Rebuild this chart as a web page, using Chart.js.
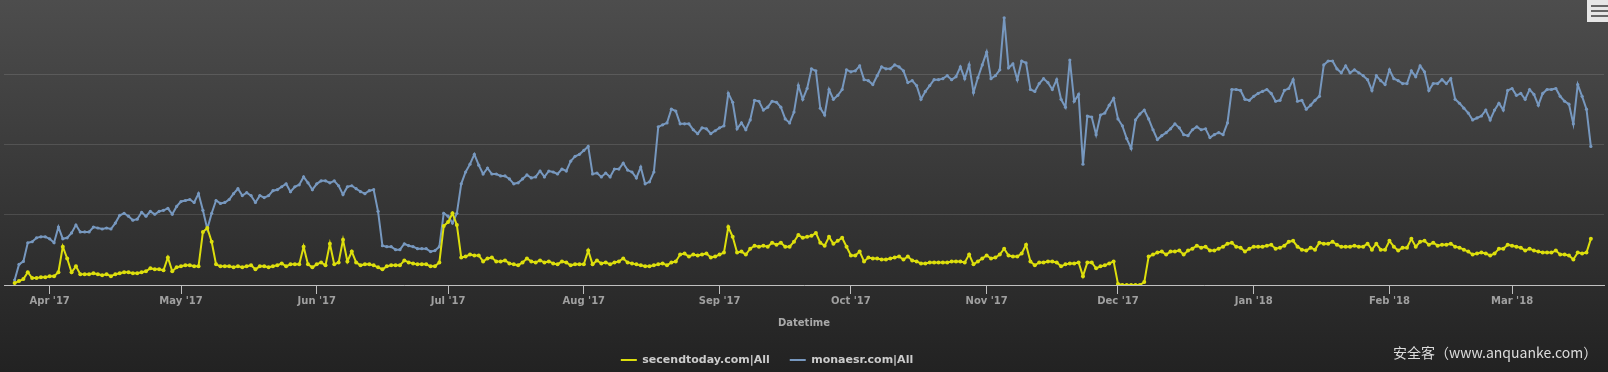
<!DOCTYPE html>
<html>
<head>
<meta charset="utf-8">
<title>secendtoday.com / monaesr.com</title>
<script src="https://cdn.jsdelivr.net/npm/chart.js@4"></script>
<style>
  html, body { margin: 0; padding: 0; background: #232323; }
  canvas { display: block; }
</style>
</head>
<body>
<canvas id="lineChart" width="1608" height="372"></canvas>
<script>
// Axel: dagar räknat från 1 april 2017
const monthTicks = [0, 30, 61, 91, 122, 153, 183, 214, 244, 275, 306, 334];
const monthLabels = ["Apr '17", "May '17", "Jun '17", "Jul '17", "Aug '17", "Sep '17",
    "Oct '17", "Nov '17", "Dec '17", "Jan '18", "Feb '18", "Mar '18"];

// Första mätpunkten: 24 mars 2017, en punkt per dag
const firstDay = -8;

const secendtoday = [2, 4, 6, 13, 7, 7, 8, 8,
    9, 9, 13, 39, 27, 13, 19, 11, 11, 11,
    12, 11, 10, 11, 9, 11, 12, 13, 13, 12,
    12, 13, 14, 17, 16, 16, 15, 28, 14, 18,
    19, 20, 20, 19, 19, 54, 58, 44, 21, 19,
    19, 19, 18, 19, 18, 19, 20, 16, 19, 19,
    18, 19, 20, 22, 19, 21, 21, 21, 39, 21,
    18, 21, 23, 20, 42, 21, 23, 46, 24, 34,
    23, 20, 21, 21, 20, 18, 16, 19, 20, 20,
    20, 25, 23, 22, 21, 21, 21, 19, 19, 23,
    60, 64, 73, 61, 28, 29, 31, 30, 30, 24,
    27, 28, 24, 24, 25, 22, 21, 20, 23, 27,
    24, 23, 25, 23, 24, 22, 21, 24, 23, 20,
    21, 21, 21, 35, 21, 25, 22, 23, 21, 23,
    24, 27, 23, 22, 21, 20, 19, 19, 20, 21,
    22, 20, 23, 24, 31, 32, 29, 31, 30, 31,
    32, 28, 29, 31, 33, 59, 49, 33, 34, 31,
    37, 40, 39, 40, 39, 43, 41, 43, 39, 39,
    44, 51, 48, 49, 50, 53, 43, 40, 49, 42,
    45, 48, 39, 30, 30, 34, 24, 28, 27, 27,
    26, 26, 27, 28, 29, 26, 29, 25, 24, 22,
    22, 23, 23, 23, 23, 23, 24, 24, 24, 23,
    31, 21, 24, 27, 30, 27, 28, 31, 37, 30,
    29, 29, 32, 41, 24, 20, 23, 23, 24, 24,
    23, 19, 21, 22, 22, 23, 9, 23, 23, 17,
    19, 20, 22, 24, 1, 0, 0, 0, 0, 0,
    3, 29, 31, 33, 34, 31, 34, 34, 35, 31,
    35, 37, 40, 38, 39, 35, 35, 37, 39, 42,
    43, 39, 38, 34, 37, 39, 39, 39, 40, 41,
    37, 38, 40, 44, 45, 39, 36, 35, 38, 36,
    43, 42, 42, 44, 41, 39, 39, 39, 40, 39,
    39, 42, 36, 42, 36, 36, 45, 39, 35, 38,
    38, 47, 39, 44, 45, 41, 43, 40, 41, 41,
    42, 39, 38, 36, 34, 31, 32, 33, 32, 30,
    32, 37, 37, 41, 40, 39, 38, 35, 37, 35,
    34, 33, 33, 33, 35, 31, 31, 30, 26, 33,
    32, 33, 47];

const monaesr = [5, 21, 24, 43, 44, 48, 49, 49,
    47, 43, 59, 47, 48, 53, 61, 54, 54, 54,
    59, 58, 57, 58, 57, 63, 71, 73, 70, 66,
    67, 74, 70, 75, 72, 75, 76, 78, 72, 80,
    85, 86, 87, 84, 93, 76, 57, 73, 86, 83,
    84, 87, 93, 98, 91, 94, 91, 84, 91, 89,
    91, 96, 97, 100, 103, 95, 100, 102, 110, 104,
    97, 103, 106, 106, 104, 106, 101, 92, 100, 101,
    98, 95, 93, 96, 97, 75, 40, 39, 39, 36,
    36, 42, 40, 39, 37, 37, 37, 34, 35, 39,
    73, 70, 63, 73, 103, 115, 123, 133, 122, 113,
    119, 113, 113, 111, 111, 108, 103, 104, 108, 112,
    109, 110, 116, 110, 116, 115, 113, 118, 116, 126,
    131, 133, 137, 141, 113, 114, 110, 114, 110, 118,
    118, 124, 117, 115, 109, 120, 103, 105, 115, 161,
    163, 165, 179, 177, 164, 164, 164, 158, 154, 160,
    159, 154, 157, 160, 162, 195, 186, 159, 165, 158,
    168, 188, 187, 178, 181, 187, 186, 181, 169, 165,
    176, 203, 189, 200, 220, 218, 180, 173, 199, 189,
    193, 199, 219, 217, 218, 223, 209, 208, 204, 213,
    222, 220, 220, 224, 222, 218, 206, 208, 203, 189,
    197, 203, 209, 209, 210, 213, 209, 212, 222, 210,
    224, 196, 211, 224, 237, 210, 213, 219, 272, 221,
    225, 209, 228, 226, 199, 197, 205, 210, 206, 199,
    209, 189, 181, 229, 187, 194, 123, 172, 171, 153,
    173, 175, 183, 190, 169, 162, 149, 139, 168, 174,
    178, 169, 158, 148, 152, 155, 159, 164, 160, 153,
    152, 158, 161, 158, 159, 150, 153, 155, 153, 165,
    199, 199, 198, 189, 188, 192, 195, 197, 199, 195,
    187, 188, 198, 200, 209, 187, 188, 179, 183, 188,
    192, 224, 228, 228, 220, 216, 223, 216, 219, 216,
    213, 209, 198, 213, 208, 204, 219, 210, 208, 205,
    205, 218, 212, 223, 217, 198, 205, 205, 209, 205,
    210, 189, 185, 180, 175, 168, 170, 172, 178, 168,
    178, 185, 178, 198, 200, 193, 195, 189, 199, 194,
    183, 195, 199, 199, 200, 192, 187, 184, 164, 204,
    192, 179, 141];

const toPoints = values => values.map((v, i) => ({ x: firstDay + i, y: v }));

Chart.defaults.font.family = '"DejaVu Sans", sans-serif';

// Bakgrund, menyknapp och vattenstämpel
const decor = {
    id: "decor",
    beforeDraw(chart) {
        const { ctx, width, height } = chart;
        const g = ctx.createLinearGradient(0, 0, 0, height);
        g.addColorStop(0, "#4d4d4d");
        g.addColorStop(1, "#222222");
        ctx.save();
        ctx.fillStyle = g;
        ctx.fillRect(0, 0, width, height);
        ctx.restore();
    },
    afterLayout(chart) {
        // förklaringen sitter lite till vänster om mitten
        chart.legend.left -= 37;
        chart.legend.right -= 37;
    },
    afterDraw(chart) {
        const { ctx, width } = chart;
        ctx.save();
        ctx.fillStyle = "#e6e6e6";
        ctx.fillRect(width - 21, 0, 21, 22);
        ctx.strokeStyle = "#666666";
        ctx.lineWidth = 2;
        [6, 11, 16].forEach(y => {
            ctx.beginPath();
            ctx.moveTo(width - 17, y);
            ctx.lineTo(width, y);
            ctx.stroke();
        });
        ctx.font = '14px "Noto Sans CJK SC"';
        ctx.fillStyle = "#dddddd";
        ctx.textAlign = "left";
        ctx.textBaseline = "middle";
        ctx.fillText("安全客（www.anquanke.com）", 1393, 353);
        ctx.restore();
    }
};

// Linjediagram
new Chart(document.getElementById("lineChart"),
    {
        type: "line",
        data: {
            datasets: [{
                label: "secendtoday.com|All",
                data: toPoints(secendtoday),
                borderColor: "#DDDF0D",
                backgroundColor: "#DDDF0D",
                borderWidth: 2,
                pointRadius: 2,
                pointBorderWidth: 0,
                tension: 0
            }, {
                label: "monaesr.com|All",
                data: toPoints(monaesr),
                borderColor: "#7798BF",
                backgroundColor: "#7798BF",
                borderWidth: 2,
                pointRadius: 1.6,
                pointBorderWidth: 0,
                tension: 0
            }]
        },
        options: {
            responsive: false,
            animation: false,
            layout: { padding: { left: 0, right: 0, top: 0, bottom: -3.5 } },
            plugins: {
                legend: {
                    position: "bottom",
                    labels: {
                        usePointStyle: true,
                        pointStyle: "line",
                        pointStyleWidth: 16,
                        padding: 20,
                        color: "#cccccc",
                        font: { size: 11, weight: "bold" },
                        generateLabels: chart => Chart.defaults.plugins.legend.labels
                            .generateLabels(chart)
                            .map(item => ({
                                ...item,
                                lineWidth: 2,
                                strokeStyle: chart.data.datasets[item.datasetIndex].borderColor
                            }))
                    }
                },
                tooltip: { enabled: false }
            },
            scales: {
                x: {
                    type: "linear",
                    min: -10.43,
                    max: 355.0,
                    afterBuildTicks: scale => {
                        scale.ticks = monthTicks.map(v => ({ value: v }));
                    },
                    ticks: {
                        autoSkip: false,
                        maxRotation: 0,
                        padding: 1,
                        color: "#a0a0a0",
                        font: { size: 10, weight: "bold" },
                        callback: (v, i) => monthLabels[i]
                    },
                    grid: { drawOnChartArea: false, tickLength: 9, tickColor: "#c0c0c0" },
                    border: { color: "#c0c0c0" },
                    title: {
                        display: true,
                        text: "Datetime",
                        color: "#aaaaaa",
                        font: { size: 10, weight: "bold" },
                        padding: { top: 9, bottom: 5.5 }
                    }
                },
                y: {
                    min: 0,
                    max: 286,
                    ticks: { display: false, stepSize: 71.5 },
                    grid: {
                        color: c => c.tick && c.tick.value >= 286 ? "rgba(0,0,0,0)" : "rgba(255,255,255,0.12)",
                        drawTicks: false
                    },
                    border: { display: false }
                }
            }
        },
        plugins: [decor]
    });
</script>
</body>
</html>
